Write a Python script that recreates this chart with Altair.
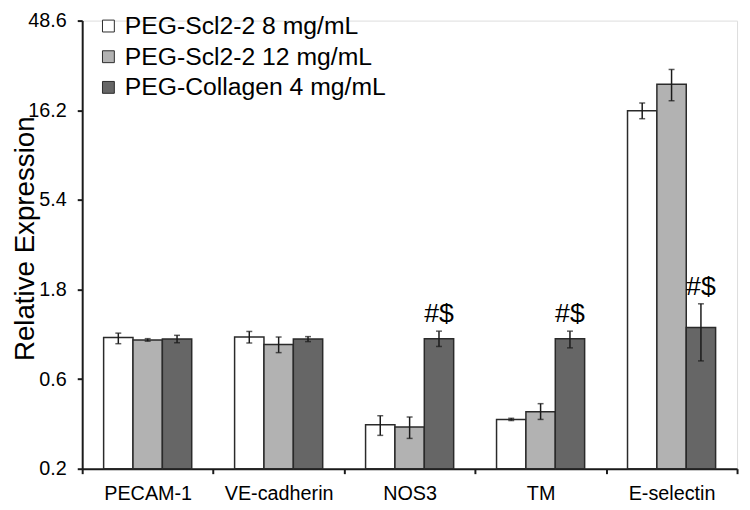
import altair as alt
import pandas as pd

categories = ["PECAM-1", "VE-cadherin", "NOS3", "TM", "E-selectin"]
series = ["PEG-Scl2-2 8 mg/mL", "PEG-Scl2-2 12 mg/mL", "PEG-Collagen 4 mg/mL"]
colors = ["#ffffff", "#b2b2b2", "#666666"]

mean_8 = [1.00, 1.005, 0.343, 0.366, 16.1]
lo_8 = [0.926, 0.934, 0.301, 0.361, 14.6]
hi_8 = [1.054, 1.076, 0.383, 0.371, 17.7]

mean_12 = [0.97, 0.916, 0.334, 0.402, 22.3]
lo_12 = [0.955, 0.83, 0.29, 0.366, 18.2]
hi_12 = [0.985, 1.005, 0.377, 0.444, 26.7]

mean_col = [0.98, 0.98, 0.985, 0.985, 1.13]
lo_col = [0.937, 0.95, 0.895, 0.88, 0.75]
hi_col = [1.026, 1.01, 1.08, 1.08, 1.51]

marks_col = ["", "", "#$", "#$", "#$"]

tick_values = [0.2, 0.6, 1.8, 5.4, 16.2, 48.6]

means = [mean_8, mean_12, mean_col]
lows = [lo_8, lo_12, lo_col]
highs = [hi_8, hi_12, hi_col]
marks = [[""] * 5, [""] * 5, marks_col]

rows = []
for si, s in enumerate(series):
    for ci, c in enumerate(categories):
        rows.append(dict(gene=c, group=s, value=means[si][ci], lo=lows[si][ci],
                         hi=highs[si][ci], mark=marks[si][ci]))
df = pd.DataFrame(rows)

FONT = "Liberation Sans"
INK = "#1a1a1a"

x = alt.X("gene:N", sort=categories,
          scale=alt.Scale(paddingInner=0, paddingOuter=0),
          axis=alt.Axis(title=None, labelAngle=0, tickBand="extent",
                        labelFont=FONT, labelFontSize=20, labelColor="black",
                        labelPadding=10, tickSize=5, tickColor=INK, tickWidth=2,
                        domainColor=INK, domainWidth=2))
xo = alt.XOffset("group:N", sort=series,
                 scale=alt.Scale(paddingInner=0, paddingOuter=0.73))
yscale = alt.Scale(type="log", domain=[0.2, 48.6], nice=False)

bars = alt.Chart(df).mark_bar(stroke="#2a2a2a", strokeWidth=1.5).encode(
    x=x,
    xOffset=xo,
    y=alt.Y("value:Q", scale=yscale,
            axis=alt.Axis(values=tick_values, format=".1f", grid=False,
                          title="Relative Expression", titleFont=FONT,
                          titleFontSize=28, titleFontWeight="normal",
                          titleColor="black", titleX=-57, titleY=220,
                          titleAngle=-90, titleBaseline="middle", titleAlign="center",
                          labelFont=FONT, labelFontSize=20, labelColor="black",
                          labelPadding=11, tickSize=5, tickColor=INK, tickWidth=2,
                          domainColor=INK, domainWidth=2)),
    y2=alt.datum(0.2),
    color=alt.Color("group:N", sort=series,
                    scale=alt.Scale(domain=series, range=colors),
                    legend=alt.Legend(title=None, orient="none", legendX=14, legendY=-7,
                                      padding=0, symbolType="square", symbolSize=144,
                                      symbolStrokeColor="#2a2a2a", symbolStrokeWidth=1,
                                      labelFont=FONT, labelFontSize=25, labelColor="black",
                                      labelOffset=4, rowPadding=5, labelLimit=400)),
)

err = alt.Chart(df).mark_rule(color=INK, strokeWidth=1.5).encode(
    x=x, xOffset=xo, y=alt.Y("lo:Q", scale=yscale), y2="hi:Q")
cap_lo = alt.Chart(df).mark_tick(color=INK, thickness=1.5, size=6, orient="horizontal").encode(
    x=x, xOffset=xo, y=alt.Y("lo:Q", scale=yscale))
cap_hi = alt.Chart(df).mark_tick(color=INK, thickness=1.5, size=6, orient="horizontal").encode(
    x=x, xOffset=xo, y=alt.Y("hi:Q", scale=yscale))

labels = alt.Chart(df).mark_text(font=FONT, fontSize=27, color="black",
                                 baseline="alphabetic", dy=-9).encode(
    x=x, xOffset=xo, y=alt.Y("hi:Q", scale=yscale), text="mark:N")

chart = alt.layer(bars, err, cap_lo, cap_hi, labels).properties(
    width=662, height=453,
    autosize=alt.AutoSizeParams(type="none"),
    padding={"left": 75, "top": 10, "right": 5, "bottom": 40},
).configure_view(stroke=None).configure(background="white")

chart.save("out.html", embed_options={"renderer": "svg", "actions": False})
